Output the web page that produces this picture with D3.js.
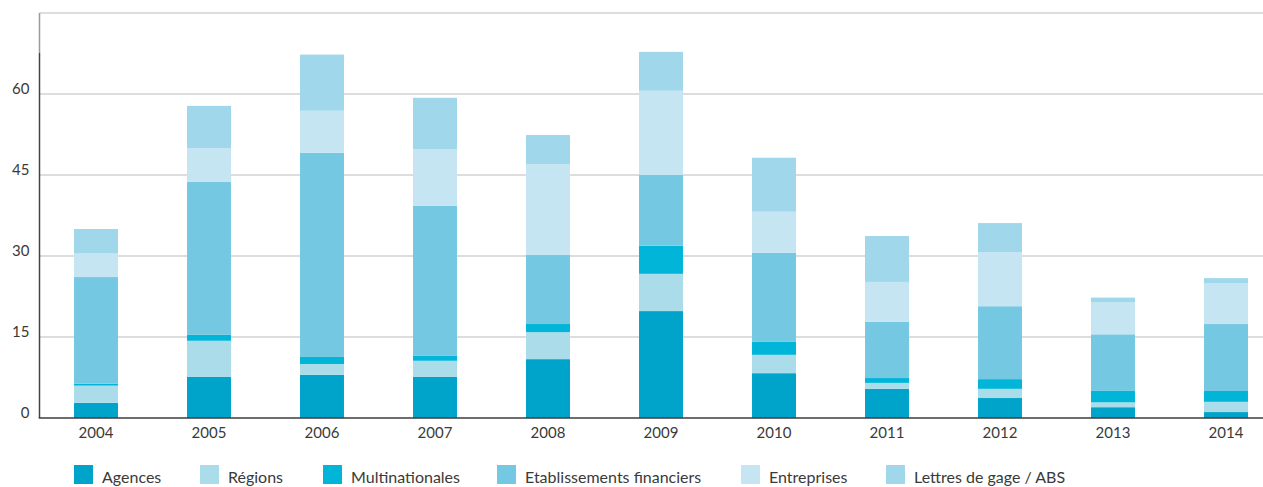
<!DOCTYPE html>
<html>
<head>
<meta charset="utf-8">
<script src="https://cdn.jsdelivr.net/npm/d3@7"></script>
<style>
  html, body { margin: 0; padding: 0; background: #fff; }
  svg { display: block; }
  text { font-family: Lato, "Open Sans", sans-serif; fill: #3a3a3a; }
</style>
</head>
<body>
<svg id="chart" width="1263" height="487"></svg>
<script>
// Annual volumes by issuer type (stacked)
const years = ["2004", "2005", "2006", "2007", "2008", "2009", "2010", "2011", "2012", "2013", "2014"];
const agences        = [2.8, 7.6, 8.0, 7.6, 10.9, 19.8, 8.3, 5.4, 3.7, 2.0, 1.1];
const regions        = [3.2, 6.7, 2.0, 3.0, 5.0, 6.9, 3.4, 1.1, 1.7, 0.9, 1.9];
const multinationales = [0.35, 1.1, 1.3, 0.9, 1.5, 5.2, 2.4, 0.9, 1.8, 2.2, 2.0];
const etablissements = [19.75, 28.3, 37.8, 27.8, 12.8, 13.1, 16.5, 10.4, 13.5, 10.4, 12.4];
const entreprises    = [4.45, 6.3, 7.8, 10.5, 16.8, 15.6, 7.6, 7.4, 10.0, 5.9, 7.6];
const lettres        = [4.45, 7.8, 10.4, 9.5, 5.4, 7.2, 10.0, 8.5, 5.4, 0.9, 0.9];

const seriesNames = ["Agences", "Régions", "Multinationales", "Etablissements financiers", "Entreprises", "Lettres de gage / ABS"];
const seriesColors = ["#00a4ca", "#abdcea", "#00b5d7", "#75c8e1", "#c4e5f1", "#a0d7ea"];
const yTicks = [0, 15, 30, 45, 60];

const seriesValues = [agences, regions, multinationales, etablissements, entreprises, lettres];
const keys = seriesNames.map((_, i) => "s" + i);
const table = years.map((yr, j) => {
  const row = { year: yr };
  keys.forEach((k, i) => row[k] = seriesValues[i][j]);
  return row;
});

const svg = d3.select("#chart");
const plotLeft = 39.5, plotRight = 1282.5, plotTop = 13, plotBottom = 418;

const x = d3.scaleBand().domain(years).range([plotLeft, plotRight])
  .paddingInner(0.611).paddingOuter(0.3055);
const y = d3.scaleLinear().domain([0, 75]).range([plotBottom, plotTop]);

// horizontal gridlines
svg.append("g").selectAll("line")
  .data(yTicks.filter(d => d > 0).concat([75]))
  .join("line")
  .attr("x1", plotLeft).attr("x2", 1263)
  .attr("y1", d => y(d)).attr("y2", d => y(d))
  .attr("stroke", "#d2d2d2").attr("stroke-width", 1.5);

// stacked bars
const stacked = d3.stack().keys(keys)(table);
svg.append("g").selectAll("g")
  .data(stacked)
  .join("g")
  .attr("fill", (d, i) => seriesColors[i])
  .selectAll("rect")
  .data(d => d)
  .join("rect")
  .attr("x", d => x(d.data.year))
  .attr("width", x.bandwidth())
  .attr("y", d => y(d[1]))
  .attr("height", d => y(d[0]) - y(d[1]));

// y axis labels
const yAxis = d3.axisLeft(y).tickValues(yTicks).tickSize(0).tickPadding(10);
const gy = svg.append("g").attr("transform", `translate(${plotLeft},0)`).call(yAxis);
gy.select(".domain").remove();
gy.selectAll("text")
  .attr("dy", "-0.05em")
  .style("font-size", "15px")
  .style("font-family", "Lato, 'Open Sans', sans-serif")
  .attr("fill", "#3a3a3a");

// left axis line
svg.append("line").attr("x1", plotLeft).attr("x2", plotLeft).attr("y1", plotTop).attr("y2", 53)
  .attr("stroke", "#9a9a9a").attr("stroke-width", 1.5);
svg.append("line").attr("x1", plotLeft).attr("x2", plotLeft).attr("y1", 53).attr("y2", plotBottom)
  .attr("stroke", "#444").attr("stroke-width", 1.5);

// x axis
const xAxis = d3.axisBottom(x).tickSize(0).tickPadding(9);
const gx = svg.append("g").attr("transform", `translate(0,${plotBottom})`).call(xAxis);
gx.select(".domain").remove();
gx.selectAll("text")
  .style("font-size", "15px")
  .style("font-family", "Lato, 'Open Sans', sans-serif")
  .attr("fill", "#3a3a3a");
svg.append("line").attr("x1", plotLeft - 0.75).attr("x2", 1263).attr("y1", plotBottom).attr("y2", plotBottom)
  .attr("stroke", "#3c3c3c").attr("stroke-width", 1.5);

// legend
const legendX = [74, 200, 323, 497, 741, 886];
const legend = svg.append("g").selectAll("g")
  .data(seriesNames)
  .join("g")
  .attr("transform", (d, i) => `translate(${legendX[i]},465)`);
legend.append("rect").attr("width", 19).attr("height", 19)
  .attr("fill", (d, i) => seriesColors[i]);
legend.append("text").attr("x", 28).attr("y", 18)
  .style("font-size", "16px")
  .text(d => d);
</script>
</body>
</html>
